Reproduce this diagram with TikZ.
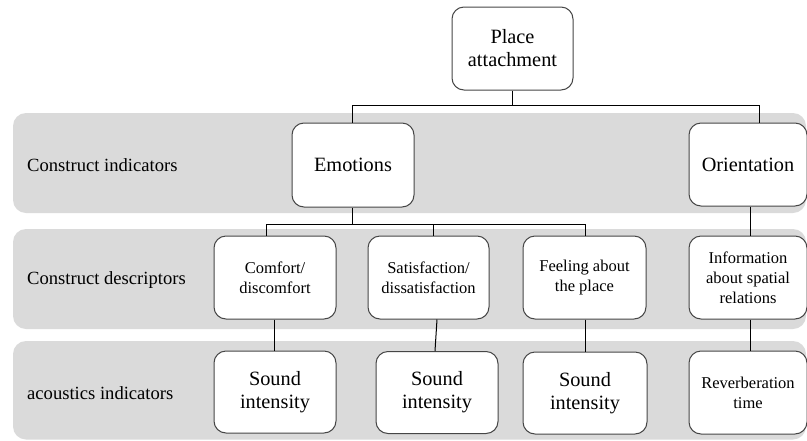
\documentclass[tikz,border=0pt]{standalone}
\usepackage{fontspec}
\setmainfont{Liberation Serif}
\newfontfamily\boxfont{Liberation Serif}
\usepackage{tikz}
\usetikzlibrary{positioning}
\definecolor{bandgray}{RGB}{218,218,218}
\definecolor{boxline}{RGB}{70,70,70}
\tikzset{
  levelbox/.style={draw=boxline, line width=1pt, fill=white, rounded corners=12pt, minimum width=122pt, minimum height=83pt, align=center, inner sep=2pt},
  bigtext/.style={levelbox, font=\boxfont\fontsize{20.3}{23}\selectfont},
  smalltext/.style={levelbox, font=\boxfont\fontsize{16.5}{20}\selectfont},
  bandlabel/.style={anchor=west, inner sep=0pt, font=\boxfont\fontsize{18.6}{21}\selectfont},
  link/.style={draw=black, line width=1pt}
}

\begin{document}
\begin{tikzpicture}[x=1pt, y=-1pt]
    \useasboundingbox (0,0) rectangle (807,440);
    % grey level bands
    \fill[bandgray, rounded corners=13pt] (13,113) rectangle (806,213);
    \fill[bandgray, rounded corners=13pt] (13,229) rectangle (806,329);
    \fill[bandgray, rounded corners=13pt] (13,341) rectangle (806,439.5);
    \node[bandlabel] (lblindic) at (27,165) {Construct indicators};
    \node[bandlabel] (lbldescr) at (27,280) {Construct descriptors};
    \node[bandlabel] (lblacous) at (27,393) {acoustics indicators};

    % boxes
    \node[bigtext, minimum width=121pt] (place) at (512.5,48.5) {Place\\attachment};
    \node[bigtext, minimum height=84pt] (emotions) at (353,165) {Emotions};
    \node[bigtext, minimum width=118pt] (orient) at (748,164.5) {Orientation};
    \node[smalltext] (comfort) at (275,277.5) {Comfort/\\discomfort};
    \node[smalltext, minimum width=121pt] (satisf) at (428.5,277.5) {Satisfaction/\\dissatisfaction};
    \node[smalltext, minimum width=123pt] (feeling) at (584.5,277.5) {Feeling about\\the place};
    \node[smalltext, minimum width=118pt] (spatial) at (748,277.5) {Information\\about spatial\\relations};
    \node[bigtext, minimum height=82pt] (sound1) at (275,392) {Sound\\intensity};
    \node[bigtext, minimum height=82pt] (sound2) at (437,392.5) {Sound\\intensity};
    \node[bigtext, minimum width=124pt, minimum height=82pt] (sound3) at (585,393) {Sound\\intensity};
    \node[smalltext, minimum width=118pt] (reverb) at (748,392.5) {Reverberation\\time};

    % connectors
    \draw[link] (place.south) -- ++(0,15) coordinate (placejoin) -| ([xshift=-1pt]emotions.north);
    \draw[link] (placejoin) -| ([xshift=11pt]orient.north);
    \draw[link] ([xshift=-1pt]emotions.south) -- ++(0,17) coordinate (emojoin) -| ([xshift=-9pt]comfort.north);
    \draw[link] (emojoin) -| ([xshift=4.5pt]satisf.north);
    \draw[link] (emojoin) -| ([xshift=0.5pt]feeling.north);
    \draw[link] ([xshift=2pt]orient.south) -- ([xshift=2pt]spatial.north);
    \draw[link] ([xshift=-1pt]comfort.south) -- ([xshift=-1pt]sound1.north);
    \draw[link] (sound2.north |- satisf.south) -- ([xshift=-2pt]sound2.north);
    \draw[link] ([xshift=0.5pt]feeling.south) -- (sound3.north);
    \draw[link] ([xshift=2pt]spatial.south) -- ([xshift=2pt]reverb.north);
\end{tikzpicture}
\end{document}
